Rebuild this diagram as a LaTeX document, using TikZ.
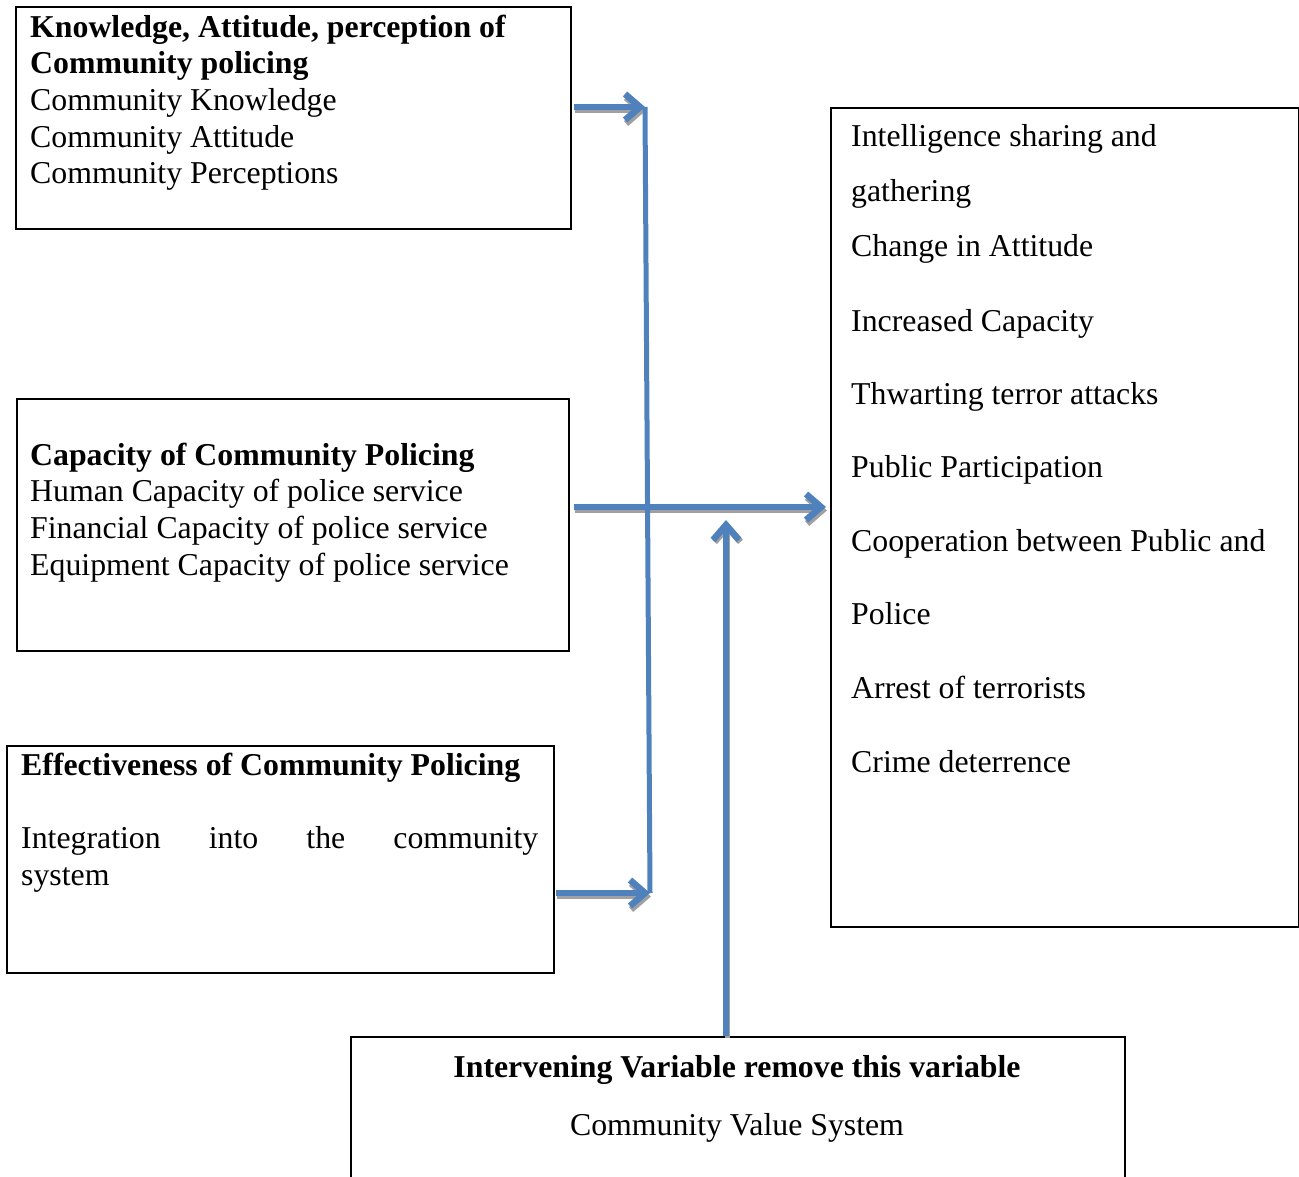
\documentclass[tikz,border=0pt]{standalone}
\usepackage{fontspec}
\setmainfont{Liberation Serif}
\usetikzlibrary{arrows.meta}
\definecolor{flowblue}{RGB}{79,129,189}
\definecolor{shadegray}{RGB}{160,160,160}
\tikzset{
  box/.style={draw, line width=1.6pt, anchor=north west, inner sep=0pt},
  boxtext/.style={anchor=north west, inner sep=0pt, align=left, font=\fontsize{31.8}{36.6}\selectfont},
  linetext/.style={anchor=base west, inner sep=0pt, font=\fontsize{31.8}{36.6}\selectfont},
  flowtip/.style={-{Straight Barb[length=15pt,width=26pt,line width=6.5pt]}},
  flow/.style={draw=flowblue, line width=5.5pt, flowtip},
  flowshade/.style={draw=shadegray, line width=5.5pt, flowtip},
  trunk/.style={draw=flowblue, line width=5pt}
}
\begin{document}
\begin{tikzpicture}[x=1pt,y=-1pt]
  \useasboundingbox (0,0) rectangle (1299,1177);
  \clip (0,0) rectangle (1299,1177);

  % boxes
  \node[box, minimum width=555pt, minimum height=222pt] (know) at (15,6) {};
  \node[box, minimum width=552pt, minimum height=252pt] (cap) at (16,398) {};
  \node[box, minimum width=547pt, minimum height=227pt] (eff) at (6,745) {};
  \node[box, minimum width=468pt, minimum height=819pt] (outc) at (830,107) {};
  \node[box, minimum width=774pt, minimum height=200pt] (inter) at (350,1036) {};

  % box texts
  \node[boxtext] (knowtxt) at (30,11.4) {\strut\textbf{Knowledge, Attitude, perception of}\\
    \textbf{Community policing}\\ Community Knowledge\\ Community Attitude\\ Community Perceptions};
  \node[boxtext] (captxt) at (30,439.4) {\strut\textbf{Capacity of Community Policing}\\
    Human Capacity of police service\\ Financial Capacity of police service\\ Equipment Capacity of police service};
  \node[boxtext, text width=517pt, align=justify] (efftxt) at (21,749.4)
    {\strut\textbf{Effectiveness of Community Policing}\par\vskip36.6pt
     Integration into the community\linebreak system};
  \foreach \y/\t [count=\i] in {147/Intelligence sharing and, 202/gathering, 257/Change in Attitude,
      331/Increased Capacity, 404/Thwarting terror attacks, 477/Public Participation,
      551/Cooperation between Public and, 624/Police, 698/Arrest of terrorists, 772/Crime deterrence}
    \node[linetext] (out\i) at (851,\y) {\t};
  \node[linetext, anchor=base] (intertitle) at (737,1077) {\textbf{Intervening Variable remove this variable}};
  \node[linetext, anchor=base] (intervalue) at (737,1135) {Community Value System};

  % connectors
  \coordinate (kstart) at (574,107);
  \coordinate (ktip) at (645,107);
  \coordinate (cstart) at (574,507);
  \coordinate (ctip) at (826,507);
  \coordinate (estart) at (556,893);
  \coordinate (etip) at (650,893);
  \coordinate (vtip) at (726,520);
  % grey shadows
  \begin{scope}[transform canvas={xshift=1pt,yshift=-3.5pt}]
    \draw[flowshade] (kstart) -- (ktip);
    \draw[flowshade] (cstart) -- (ctip);
    \draw[flowshade] (estart) -- (etip);
  \end{scope}
  \begin{scope}[transform canvas={xshift=1.5pt,yshift=-2pt}]
    \draw[flowshade] (inter.north -| vtip) -- (vtip);
  \end{scope}
  \draw[flow] (kstart) -- (ktip);
  \draw[flow] (cstart) -- (ctip);
  \draw[flow] (estart) -- (etip);
  \draw[trunk] (ktip) -- (etip);
  \draw[flow] (inter.north -| vtip) -- (vtip);
\end{tikzpicture}
\end{document}
